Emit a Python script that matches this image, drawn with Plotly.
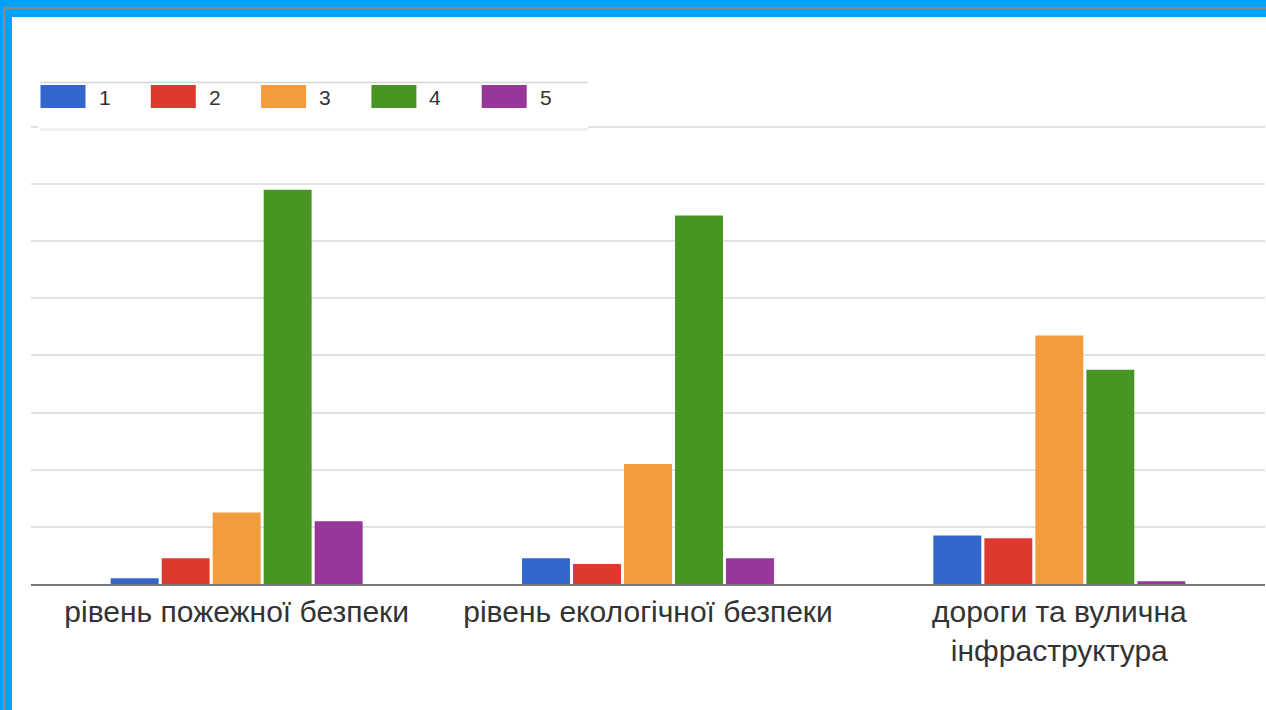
import plotly.graph_objects as go

categories = ["рівень пожежної безпеки", "рівень екологічної безпеки", "дороги та вулична<br>інфраструктура"]
series_names = ["1", "2", "3", "4", "5"]
s1 = [2, 9, 17]
s2 = [9, 7, 16]
s3 = [25, 42, 87]
s4 = [138, 129, 75]
s5 = [22, 9, 1]
values = [s1, s2, s3, s4, s5]
colors = ["#3366cc", "#dc3a2e", "#f29b3f", "#479624", "#993699"]
y_ticks = [0, 20, 40, 60, 80, 100, 120, 140, 160]

W, H = 1266, 710
ML, MR, MT, MB = 31, 1, 124, 126
PW = W - ML - MR
PH = H - MT - MB

def px(x):
    return (x - ML) / PW

def py(y):
    return (H - MB - y) / PH

fig = go.Figure()
for name, vals, col in zip(series_names, values, colors):
    fig.add_trace(go.Bar(x=categories, y=vals, name=name, marker=dict(color=col, line=dict(width=0))))

shapes = []
# white card on blue frame
shapes.append(dict(type="rect", xref="paper", yref="paper", x0=px(12), x1=px(W + 5), y0=py(17), y1=py(H + 5),
                   fillcolor="white", line=dict(width=0), layer="below"))
shapes.append(dict(type="line", xref="paper", yref="paper", x0=px(4), x1=px(4), y0=py(8), y1=py(H + 5),
                   line=dict(color="#8a8a8a", width=2), layer="below"))
shapes.append(dict(type="line", xref="paper", yref="paper", x0=px(4), x1=px(W + 5), y0=py(8), y1=py(8),
                   line=dict(color="#8a8a8a", width=2), layer="below"))
# legend box
shapes.append(dict(type="rect", xref="paper", yref="paper", x0=px(38), x1=px(588), y0=py(82), y1=py(131),
                   fillcolor="white", line=dict(width=0), layer="above"))
shapes.append(dict(type="line", xref="paper", yref="paper", x0=px(40), x1=px(588), y0=py(82.5), y1=py(82.5),
                   line=dict(color="#d6d6d6", width=1.5), layer="above"))
shapes.append(dict(type="line", xref="paper", yref="paper", x0=px(40), x1=px(588), y0=py(129.5), y1=py(129.5),
                   line=dict(color="#f0f0f0", width=3), layer="above"))

annotations = []
for i, (name, col) in enumerate(zip(series_names, colors)):
    x0 = 40.5 + i * 110.3
    shapes.append(dict(type="rect", xref="paper", yref="paper", x0=px(x0), x1=px(x0 + 45), y0=py(85), y1=py(108),
                       fillcolor=col, line=dict(width=0), layer="above"))
    annotations.append(dict(text=name, xref="paper", yref="paper", x=px(x0 + 56), y=py(97.5), xanchor="left",
                            yanchor="middle", showarrow=False,
                            font=dict(family="Liberation Sans, Arial", size=21, color="#333333")))

fig.update_layout(
    width=W, height=H,
    margin=dict(l=ML, r=MR, t=MT, b=MB, pad=0),
    paper_bgcolor="#00a2ff",
    plot_bgcolor="white",
    barmode="group",
    bargap=0.38,
    bargroupgap=0.06,
    showlegend=False,
    shapes=shapes,
    annotations=annotations,
    font=dict(family="Liberation Sans, Arial", color="#333333"),
    xaxis=dict(showgrid=False, showline=True, linecolor="#777777", linewidth=2, ticks="",
               tickfont=dict(size=30, color="#333333"), automargin=False, fixedrange=True),
    yaxis=dict(range=[0, 161], tickvals=y_ticks, showticklabels=False, showgrid=True,
               gridcolor="#e2e2e2", gridwidth=1.5, zeroline=False, showline=False, automargin=False),
)

fig.write_html("out.html", config={"displayModeBar": False},
               post_script="document.body.style.margin='0';document.body.style.overflow='hidden';")
